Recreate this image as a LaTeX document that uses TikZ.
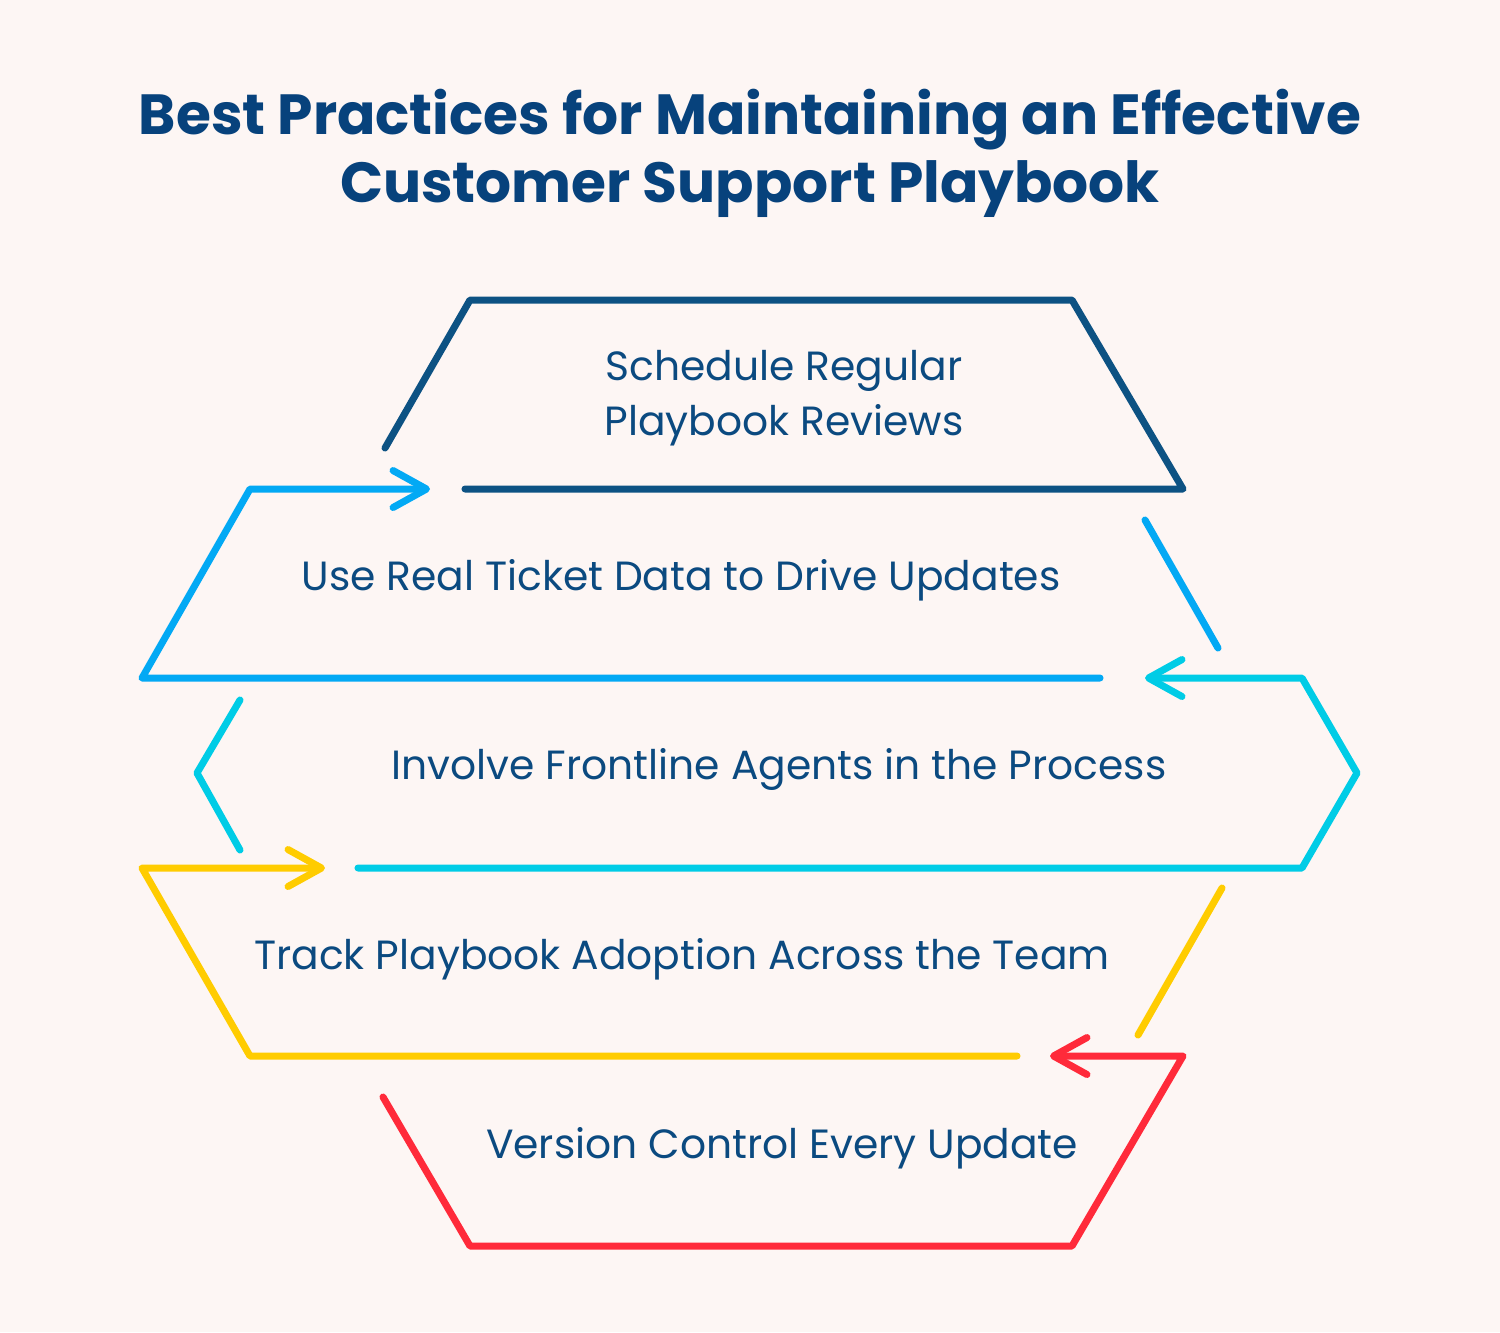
\documentclass[tikz,border=0pt]{standalone}
\usepackage{fontspec}
\setmainfont{Poppins}
\usetikzlibrary{arrows.meta, positioning}

\definecolor{bgcol}{HTML}{FDF6F4}
\definecolor{ttlcol}{HTML}{07427C}
\definecolor{txtcol}{HTML}{0B4A80}
\definecolor{navycol}{HTML}{0D5283}
\definecolor{bluecol}{HTML}{03A9F4}
\definecolor{cyancol}{HTML}{00CCE6}
\definecolor{yelcol}{HTML}{FFCC00}
\definecolor{redcol}{HTML}{FF2A3A}

\begin{document}
\begin{tikzpicture}[x=0.01cm, y=-0.01cm,
      >={Straight Barb[length=9.5pt, width=10.5pt, round]},
      band/.style={line width=2pt, line cap=round, line join=round},
      lbl/.style={font=\fontsize{11.6}{15.6}\selectfont, text=txtcol, align=center},
      ttl/.style={font=\fontsize{16.1}{19.3}\selectfont\bfseries, text=ttlcol, align=center}]

    % canvas
    \fill[bgcol] (0,0) rectangle (1500,1332);
    \useasboundingbox (0,0) rectangle (1500,1332);

    % === title ===
    \node[ttl] (title) at (750,153) {Best Practices for Maintaining an Effective\\Customer Support Playbook};

    % === (1) navy step ===
    \draw[band, navycol] (385,448) -- (470,300) -- (1072,300) -- (1183,489) -- (465,489);
    \node[lbl] (review) at (784,398) {Schedule Regular\\Playbook Reviews};

    % === (2) blue step ===
    \draw[band, bluecol, ->] (1100,678) -- (142,678) -- (250,489) -- (430,489);
    \draw[band, bluecol] (1145,520) -- (1218,648);
    \node[lbl] (ticket) at (681,580) {Use Real Ticket Data to Drive Updates};

    % === (3) cyan step ===
    \draw[band, cyancol, ->] (358,868) -- (1302,868) -- (1357,773) -- (1302,678) -- (1145,678);
    \draw[band, cyancol] (240,700) -- (197,773) -- (240,850);
    \node[lbl] (agents) at (779,769) {Involve Frontline Agents in the Process};

    % === (4) yellow step ===
    \draw[band, yelcol, ->] (1017,1056) -- (250,1056) -- (142,868) -- (325,868);
    \draw[band, yelcol] (1222,888) -- (1138,1035);
    \node[lbl] (adopt) at (682,959) {Track Playbook Adoption Across the Team};

    % === (5) red step ===
    \draw[band, redcol, ->] (383,1097) -- (470,1246) -- (1072,1246) -- (1183,1056) -- (1050,1056);
    \node[lbl] (version) at (782,1148) {Version Control Every Update};

\end{tikzpicture}
\end{document}
